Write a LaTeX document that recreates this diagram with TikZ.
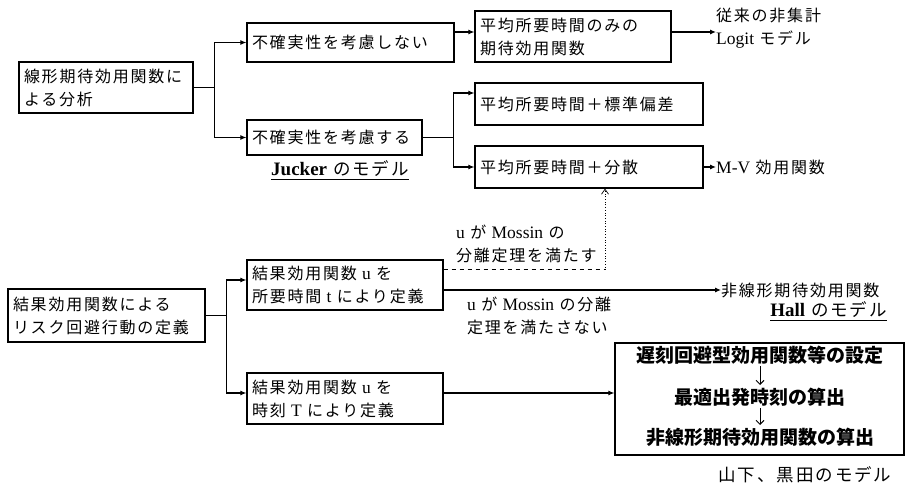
\documentclass[tikz,border=0pt]{standalone}
\usepackage{fontspec}
\setmainfont{Liberation Serif}
\newfontfamily\jp[LetterSpace=11]{Noto Sans CJK JP}
\newfontfamily\jpn{Noto Sans CJK JP}
\usetikzlibrary{arrows.meta,calc}
\newcommand\lat[1]{{\rmfamily\fontsize{17.5}{23}\selectfont #1}}
\newcommand\latb[1]{{\rmfamily\bfseries\fontsize{19}{23}\selectfont #1}}
\begin{document}
\begin{tikzpicture}[x=1pt,y=-1pt,
  box/.style={draw, line width=1.2pt, inner xsep=5pt, inner ysep=0pt, align=left,
    font=\fontsize{16}{23}\selectfont\jp},
  txt/.style={font=\fontsize{16}{23}\selectfont\jp, align=left, inner sep=0pt},
  mtxt/.style={font=\fontsize{17.5}{23}\selectfont\jp, inner sep=0pt},
  bt/.style={font=\fontsize{19}{23}\selectfont\jpn\bfseries, inner sep=0pt},
  ln/.style={line width=1.1pt},
  arr/.style={line width=1.1pt, -{Latex[length=6pt,width=5pt]}},
  thinarr/.style={line width=1pt, -{Straight Barb[length=4pt,width=8pt]}},
  dotarr/.style={line width=0.7pt, dotted, -{Straight Barb[length=5pt,width=7pt]}}]
\useasboundingbox (0,0) rectangle (907,486);

% upper part
\node[box, minimum width=174pt, minimum height=51pt, text width=164pt] (A) at (106,87.5) {線形期待効用関数に\\よる分析};
\node[box, minimum width=207pt, minimum height=39pt, text width=197pt] (B) at (350.5,42.5) {不確実性を考慮しない};
\node[box, minimum width=175pt, minimum height=35pt, text width=165pt] (C) at (334.5,137.5) {不確実性を考慮する};
\node[box, minimum width=196pt, minimum height=51pt, text width=186pt] (D) at (573,36.5) {平均所要時間のみの\\期待効用関数};
\node[box, minimum width=228pt, minimum height=42pt, text width=218pt] (E) at (589,104) {平均所要時間＋標準偏差};
\node[box, minimum width=228pt, minimum height=42pt, text width=218pt] (F) at (589,167) {平均所要時間＋分散};

\node[txt, anchor=west] (lg) at (716,28.5) {従来の非集計\\\lat{Logit} モデル};
\node[txt, anchor=west] (mv) at (716,167) {\lat{M-V} 効用関数};
\node[mtxt] (jk) at (340,169) {\latb{Jucker} のモデル};
\draw[ln] ([yshift=-2pt]jk.south west) -- ([yshift=-2pt]jk.south east);

\draw[ln] (A.east) -- ++(21,0) coordinate (j1);
\draw[arr] (j1) |- (B.west);
\draw[arr] (j1) |- (C.west);
\draw[arr] ([yshift=10.5pt]B.east) -- ([yshift=10.5pt]B.east -| D.west);
\draw[arr] ([yshift=4.5pt]D.east) -- ([yshift=4.5pt]D.east -| lg.west);
\draw[ln] (C.east) -- ++(31,0) coordinate (j2);
\draw[arr] (j2) |- ([yshift=11pt]E.west);
\draw[arr] (j2) |- (F.west);
\draw[arr] (F.east) -- (mv.west);

% lower part
\node[box, minimum width=197pt, minimum height=53pt, text width=187pt] (H) at (106.5,315.5) {結果効用関数による\\リスク回避行動の定義};
\node[box, minimum width=196pt, minimum height=50pt, text width=186pt] (G) at (345,285) {結果効用関数 \lat{u} を\\所要時間 \lat{t} により定義};
\node[box, minimum width=196pt, minimum height=51pt, text width=186pt] (I) at (345,398.5) {結果効用関数 \lat{u} を\\時刻 \lat{T} により定義};
\node[draw, line width=1.2pt, minimum width=289pt, minimum height=112pt] (J) at (759.5,399) {};
\node[bt] (J1) at (760,355) {遅刻回避型効用関数等の設定};
\node[bt] (J2) at (760,397) {最適出発時刻の算出};
\node[bt] (J3) at (760,437) {非線形期待効用関数の算出};
\draw[thinarr] ($(J1.center)+(0,11)$) -- ($(J2.center)+(0,-12)$);
\draw[thinarr] ($(J2.center)+(0,11)$) -- ($(J3.center)+(0,-12)$);

\node[txt, anchor=west] (m1) at (456,244) {\lat{u} が \lat{Mossin} の\\分離定理を満たす};
\node[txt, anchor=west] (m2) at (467,316) {\lat{u} が \lat{Mossin} の分離\\定理を満たさない};
\node[txt, anchor=west] (nl) at (721,290) {非線形期待効用関数};
\node[mtxt, anchor=east] (hall) at (887,310) {\latb{Hall} のモデル};
\draw[ln] ([yshift=-2pt]hall.south west) -- ([yshift=-2pt]hall.south east);
\node[mtxt] (yk) at (805,475) {山下、黒田のモデル};

\draw[ln] (H.east) -- ++(21,0) coordinate (j3);
\draw[arr] (j3) |- ([yshift=5pt]G.west);
\draw[arr] (j3) |- ([yshift=5.5pt]I.west);
\coordinate (k) at (605,270);
\draw[line width=1pt, dash pattern=on 4pt off 4pt] ([yshift=15pt]G.east) -- (k);
\draw[dotarr] (k) -- (k |- F.south);
\draw[arr] ([yshift=-5pt]G.east) -- ([yshift=-5pt]G.east -| nl.west);
\draw[arr] ([yshift=5.5pt]I.east) -- ([yshift=5.5pt]I.east -| J.west);
\end{tikzpicture}
\end{document}
